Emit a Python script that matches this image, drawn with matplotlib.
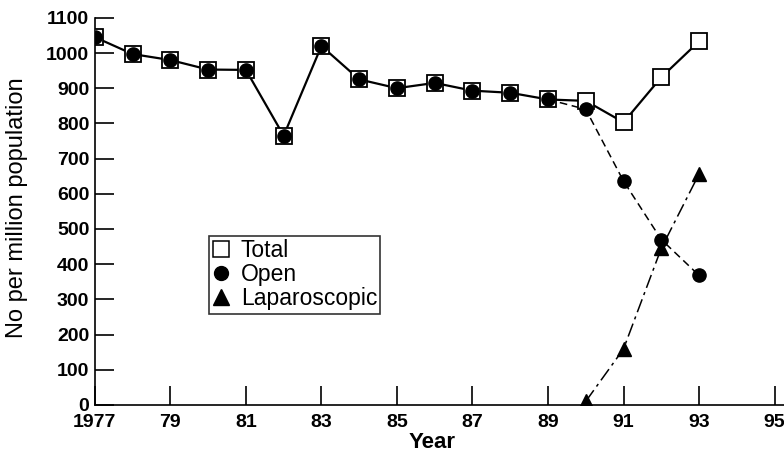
import matplotlib
matplotlib.use('Agg')
import matplotlib.pyplot as plt

plt.rcParams['font.family'] = ['Liberation Sans', 'DejaVu Sans']

# Data
years = [1977, 1978, 1979, 1980, 1981, 1982, 1983, 1984, 1985, 1986, 1987,
         1988, 1989, 1990, 1991, 1992, 1993]
total = [1045, 997, 980, 953, 952, 765, 1020, 925, 900, 915, 893,
         887, 868, 864, 803, 931, 1033]
open_ = [1045, 997, 980, 953, 952, 765, 1020, 925, 900, 915, 893,
         887, 868, 840, 636, 470, 368]
lap_years = [1990, 1991, 1992, 1993]
lap = [10, 159, 445, 656]

xticks = list(range(1977, 1996, 2))
xtick_labels = ['1977'] + [str(y)[2:] for y in xticks[1:]]
yticks = list(range(0, 1101, 100))

fig = plt.figure(figsize=(7.84, 4.57), dpi=100)
ax = fig.add_axes([0.121, 0.114, 0.879, 0.847])

ax.plot(years[12:], open_[12:], color='black', lw=1.1, ls=(0, (5, 3)), zorder=2)
ax.plot(lap_years, lap, color='black', lw=1.1, ls=(0, (9, 3, 2, 3)), zorder=2)
ax.plot(years, total, color='black', lw=1.6, marker='s', ms=12, mfc='white',
        mec='black', mew=1.3, zorder=3)
ax.plot(years, open_, color='none', marker='o', ms=9.5, mfc='black', mec='black',
        ls='none', zorder=4)
ax.plot(lap_years, lap, color='none', marker='^', ms=10, mfc='black',
        mec='black', ls='none', zorder=4)

# legend handles (markers only)
h1, = ax.plot([], [], 's', ms=12, mfc='white', mec='black', mew=1.1, label='Total')
h2, = ax.plot([], [], 'o', ms=10, color='black', label='Open')
h3, = ax.plot([], [], '^', ms=11, color='black', label='Laparoscopic')
leg = ax.legend(handles=[h1, h2, h3], loc='upper left',
                bbox_to_anchor=(0.165, 0.437), frameon=True, fancybox=False,
                edgecolor='black', handlelength=0.8, handletextpad=0.45,
                borderpad=0.15, labelspacing=0.05, borderaxespad=0,
                fontsize=16.5)
leg.get_frame().set_linewidth(1.2)

ax.set_xlim(1977, 1995.25)
ax.set_ylim(0, 1100)
ax.set_xticks(xticks)
ax.set_xticklabels(xtick_labels)
ax.set_yticks(yticks)
ax.tick_params(axis='x', direction='in', length=14, width=1.2, labelsize=14, pad=6.5)
ax.tick_params(axis='y', direction='in', length=14, width=1.2, labelsize=14, pad=4)
for lbl in ax.get_xticklabels() + ax.get_yticklabels():
    lbl.set_fontweight('bold')

ax.spines['top'].set_visible(False)
ax.spines['right'].set_visible(False)
ax.spines['left'].set_linewidth(1.2)
ax.spines['bottom'].set_linewidth(1.2)

ax.set_xlabel('Year', fontsize=16, fontweight='bold')
ax.xaxis.set_label_coords(0.49, -0.07)
ax.set_ylabel('No per million population', fontsize=17)
ax.yaxis.set_label_coords(-0.097, 0.51)

fig.savefig('out.png', dpi=100)
